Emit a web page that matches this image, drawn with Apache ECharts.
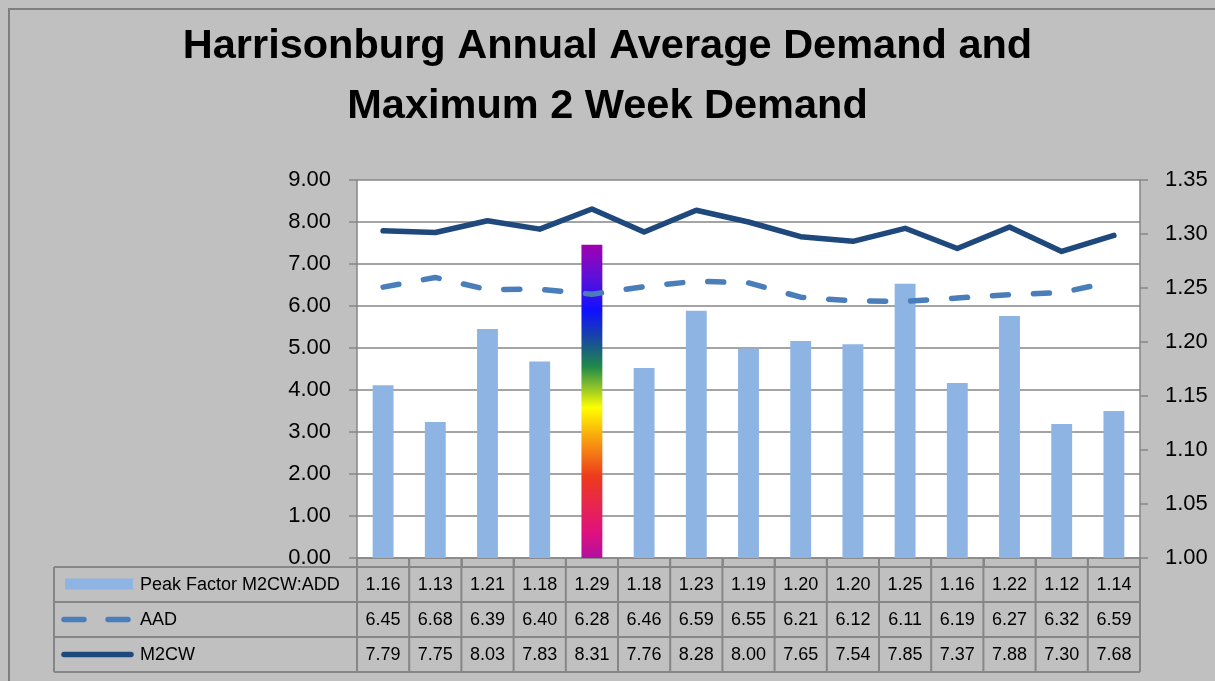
<!DOCTYPE html>
<html>
<head>
<meta charset="utf-8">
<title>Harrisonburg Annual Average Demand and Maximum 2 Week Demand</title>
<script src="https://cdn.jsdelivr.net/npm/echarts@6/dist/echarts.min.js"></script>
<style>
html, body { margin: 0; padding: 0; background: #c0c0c0; }
#chart { width: 1215px; height: 681px; }
</style>
</head>
<body>
<div id="chart"></div>
<script>
// data (peak factor, table shows it rounded)
const categories = ["1", "2", "3", "4", "5", "6", "7", "8", "9", "10", "11", "12", "13", "14", "15"];
const peakFactor = [1.160, 1.126, 1.212, 1.182, 1.290, 1.176, 1.229, 1.194, 1.201, 1.198, 1.254, 1.162, 1.224, 1.124, 1.136];
const aad = [6.45, 6.68, 6.39, 6.40, 6.28, 6.46, 6.59, 6.55, 6.21, 6.12, 6.11, 6.19, 6.27, 6.32, 6.59];
const m2cw = [7.79, 7.75, 8.03, 7.83, 8.31, 7.76, 8.28, 8.00, 7.65, 7.54, 7.85, 7.37, 7.88, 7.30, 7.68];
const seriesNames = ["Peak Factor M2CW:ADD", "AAD", "M2CW"];
const leftAxisRange = [0, 9, 1];      // min, max, step
const rightAxisRange = [1.00, 1.35, 0.05];
const rainbowIndex = 4;

const FONT = "'Liberation Sans', Arial, sans-serif";
const GRID = {left: 357, right: 75, top: 180, bottom: 123};
const TABLE_LEFT = 54;
const ROW_TOPS = [567, 602, 637, 672];
const GRAY = "#868686";
const BAR_COLOR = "#8eb4e3";
const AAD_COLOR = "#4a7ebb";
const M2CW_COLOR = "#1f497d";

const rainbow = new echarts.graphic.LinearGradient(0, 0, 0, 1, [
  {offset: 0, color: "#a000b0"},
  {offset: 0.1, color: "#6010d8"},
  {offset: 0.21, color: "#1010ff"},
  {offset: 0.3, color: "#1848a0"},
  {offset: 0.39, color: "#208a48"},
  {offset: 0.47, color: "#a8d020"},
  {offset: 0.52, color: "#ffff00"},
  {offset: 0.62, color: "#f8a010"},
  {offset: 0.74, color: "#ee3a1c"},
  {offset: 0.82, color: "#e82848"},
  {offset: 0.92, color: "#e0107e"},
  {offset: 1, color: "#b010a0"}
]);

const barData = peakFactor.map((v, i) => i === rainbowIndex ? {value: v, itemStyle: {color: rainbow}} : v);

let chart = echarts.init(document.getElementById("chart"));
chart.setOption({
  backgroundColor: "#c0c0c0",
  animation: false,
  title: {
    text: "Harrisonburg Annual Average Demand and\nMaximum 2 Week Demand",
    left: "center",
    top: 12,
    textStyle: {fontFamily: FONT, fontSize: 41.5, fontWeight: "bold", color: "#000", lineHeight: 60}
  },
  grid: {
    left: GRID.left, right: GRID.right, top: GRID.top, bottom: GRID.bottom,
    show: true, backgroundColor: "#ffffff", borderWidth: 0
  },
  xAxis: {
    type: "category",
    data: categories,
    axisLine: {lineStyle: {color: GRAY, width: 1.5}},
    axisTick: {show: true, length: 9, interval: 0, lineStyle: {color: GRAY, width: 2}},
    axisLabel: {show: false}
  },
  yAxis: [{
    type: "value",
    min: leftAxisRange[0], max: leftAxisRange[1], interval: leftAxisRange[2],
    axisLine: {show: true, lineStyle: {color: GRAY, width: 1.5}},
    axisTick: {show: true, length: 8, lineStyle: {color: GRAY, width: 1.5}},
    splitLine: {lineStyle: {color: GRAY, width: 1.5}},
    axisLabel: {margin: 26, fontFamily: FONT, fontSize: 22, color: "#000", formatter: v => v.toFixed(2)}
  }, {
    type: "value",
    min: rightAxisRange[0], max: rightAxisRange[1], interval: rightAxisRange[2],
    axisLine: {show: true, lineStyle: {color: GRAY, width: 1.5}},
    axisTick: {show: true, length: 8, lineStyle: {color: GRAY, width: 1.5}},
    splitLine: {show: false},
    axisLabel: {margin: 25, fontFamily: FONT, fontSize: 22, color: "#000", formatter: v => v.toFixed(2)}
  }],
  series: [{
    name: seriesNames[0],
    type: "bar",
    yAxisIndex: 1,
    barWidth: "40%",
    itemStyle: {color: BAR_COLOR},
    data: barData
  }, {
    name: seriesNames[1],
    type: "line",
    yAxisIndex: 0,
    symbol: "none",
    lineStyle: {color: AAD_COLOR, width: 5.5, type: [16, 25], cap: "round", join: "round"},
    data: aad
  }, {
    name: seriesNames[2],
    type: "line",
    yAxisIndex: 0,
    symbol: "none",
    lineStyle: {color: M2CW_COLOR, width: 5.5, cap: "round", join: "round"},
    data: m2cw
  }]
});

// data table under the plot, columns placed with the category axis
function buildTable() {
  const rows = [peakFactor, aad, m2cw];
  const centers = categories.map((c, i) => chart.convertToPixel({xAxisIndex: 0}, i));
  const colW = centers[1] - centers[0];
  const tableRight = centers[centers.length - 1] + colW / 2;
  const firstCol = centers[0] - colW / 2;
  const els = [];
  const lineStyle = {stroke: GRAY, lineWidth: 2};

  // outer border of the whole chart
  els.push({type: "rect", shape: {x: 9, y: 9, width: 1300, height: 800}, style: {fill: null, stroke: "#7f7f7f", lineWidth: 2}, silent: true});

  // horizontal rules
  ROW_TOPS.forEach(y => {
    els.push({type: "line", shape: {x1: TABLE_LEFT, y1: y, x2: tableRight, y2: y}, style: lineStyle});
  });
  // vertical rules
  els.push({type: "line", shape: {x1: TABLE_LEFT, y1: ROW_TOPS[0], x2: TABLE_LEFT, y2: ROW_TOPS[3]}, style: lineStyle});
  for (let i = 0; i <= categories.length; i++) {
    const x = firstCol + i * colW;
    els.push({type: "line", shape: {x1: x, y1: ROW_TOPS[0] - 9, x2: x, y2: ROW_TOPS[3]}, style: lineStyle});
  }

  rows.forEach((vals, r) => {
    const cy = (ROW_TOPS[r] + ROW_TOPS[r + 1]) / 2;
    vals.forEach((v, i) => {
      els.push({type: "text", x: centers[i], y: cy + 1, style: {
        text: v.toFixed(2), font: "18px " + FONT, fill: "#000", align: "center", verticalAlign: "middle"
      }});
    });
    els.push({type: "text", x: 140, y: cy + 1, style: {
      text: seriesNames[r], font: "18px " + FONT, fill: "#000", align: "left", verticalAlign: "middle"
    }});
  });

  // legend keys
  let cy = (ROW_TOPS[0] + ROW_TOPS[1]) / 2;
  els.push({type: "rect", shape: {x: 65, y: cy - 6, width: 68, height: 11}, style: {fill: BAR_COLOR}});
  cy = (ROW_TOPS[1] + ROW_TOPS[2]) / 2;
  els.push({type: "line", shape: {x1: 64, y1: cy, x2: 131, y2: cy},
    style: {stroke: AAD_COLOR, lineWidth: 5.5, lineDash: [20, 24], lineCap: "round"}});
  cy = (ROW_TOPS[2] + ROW_TOPS[3]) / 2;
  els.push({type: "line", shape: {x1: 64, y1: cy, x2: 131, y2: cy},
    style: {stroke: M2CW_COLOR, lineWidth: 5.5, lineCap: "round"}});

  chart.setOption({graphic: {elements: els}});
}
buildTable();
</script>
</body>
</html>
